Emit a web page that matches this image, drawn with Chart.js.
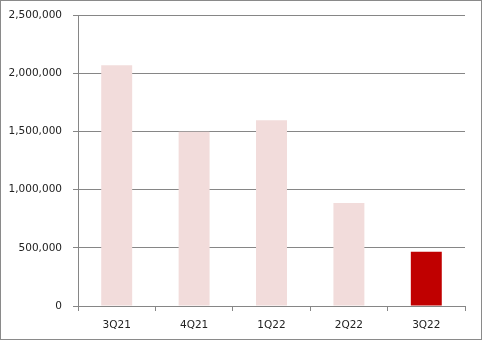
<!DOCTYPE html>
<html>
<head>
<meta charset="utf-8">
<script src="https://cdn.jsdelivr.net/npm/chart.js@4/dist/chart.umd.min.js"></script>
<style>
    html, body { margin: 0; padding: 0; background: #fff; }
    .frame {
        width: 482px;
        height: 340px;
        box-sizing: border-box;
        border: 1px solid #8a8a8a;
        position: relative;
    }
    .frame canvas { display: block; }
</style>
</head>
<body>
<div class="frame">
    <canvas id="chart" width="480" height="338"></canvas>
</div>
<script>
// Quarterly values
const quarters = ['3Q21', '4Q21', '1Q22', '2Q22', '3Q22'];
const amounts = [2068000, 1498000, 1596000, 884000, 467000];
const yTicks = [0, 500000, 1000000, 1500000, 2000000, 2500000];

const baseColor = '#f2dcdb';
const highlightColor = '#c00000';
const highlightIndex = quarters.length - 1;

const gridGray = '#868686';
const labelFont = { family: 'DejaVu Sans', size: 10.5 };

const barColors = quarters.map((q, i) => i === highlightIndex ? highlightColor : baseColor);

new Chart(document.getElementById('chart'), {
    type: 'bar',
    data: {
        labels: quarters,
        datasets: [{
            data: amounts,
            backgroundColor: barColors,
            borderWidth: 0,
            barPercentage: 0.4,
            categoryPercentage: 1
        }]
    },
    options: {
        responsive: false,
        animation: false,
        layout: {
            padding: { top: 14, right: 16, bottom: 0, left: 0 }
        },
        plugins: {
            legend: { display: false },
            tooltip: { enabled: false }
        },
        scales: {
            x: {
                afterFit: scale => {
                    scale.height = 33;
                    scale.paddingLeft = 0;
                    scale.paddingRight = 0;
                },
                grid: {
                    drawOnChartArea: false,
                    drawTicks: true,
                    tickLength: 5,
                    color: gridGray,
                    offset: true
                },
                border: { display: true, color: gridGray },
                ticks: {
                    color: '#222',
                    font: labelFont,
                    padding: 8,
                    maxRotation: 0
                }
            },
            y: {
                min: yTicks[0],
                max: yTicks[yTicks.length - 1],
                afterFit: scale => {
                    scale.width = 77;
                    scale.paddingTop = 0;
                    scale.paddingBottom = 0;
                },
                afterBuildTicks: scale => {
                    scale.ticks = yTicks.map(v => ({ value: v }));
                },
                grid: {
                    color: gridGray,
                    drawTicks: true,
                    tickLength: 5
                },
                border: { display: true, color: gridGray },
                ticks: {
                    color: '#222',
                    font: labelFont,
                    padding: 11,
                    callback: value => value.toLocaleString('en-US')
                }
            }
        }
    }
});
</script>
</body>
</html>
